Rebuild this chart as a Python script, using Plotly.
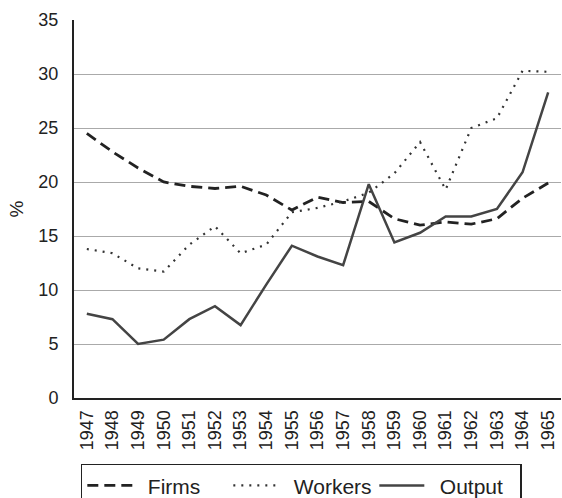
import plotly.graph_objects as go

years = [str(y) for y in range(1947, 1966)]
firms = [24.5, 22.8, 21.3, 20.0, 19.6, 19.4, 19.6, 18.8, 17.4, 18.6, 18.1, 18.2, 16.6, 16.0, 16.3, 16.1, 16.6, 18.5, 19.9]
workers = [13.8, 13.4, 12.0, 11.7, 14.2, 15.9, 13.4, 14.2, 17.2, 17.6, 18.2, 19.0, 20.8, 23.7, 19.3, 25.0, 25.9, 30.3, 30.2]
output = [7.8, 7.3, 5.0, 5.4, 7.3, 8.5, 6.75, 10.5, 14.1, 13.1, 12.3, 19.8, 14.4, 15.3, 16.8, 16.8, 17.5, 20.9, 28.3]
series_names = ["Firms", "Workers", "Output"]

fig = go.Figure()
fig.add_trace(go.Scatter(x=years, y=firms, name="\u2002" + series_names[0], mode="lines",
                         line=dict(color="#222222", width=2.8, dash="11px,6px")))
fig.add_trace(go.Scatter(x=years, y=workers, name="\u2002" + series_names[1], mode="lines",
                         line=dict(color="#333333", width=2.2, dash="2px,6px")))
fig.add_trace(go.Scatter(x=years, y=output, name="\u2002" + series_names[2], mode="lines",
                         line=dict(color="#444444", width=2.5)))

fig.update_layout(
    width=562, height=498,
    margin=dict(l=74, r=1, t=20, b=100, autoexpand=False),
    paper_bgcolor="white", plot_bgcolor="white",
    font=dict(family="Liberation Sans, Arial, sans-serif", size=18, color="#222222"),
    showlegend=True,
    legend=dict(orientation="h", x=0.014, xanchor="left", y=-0.174, yanchor="top",
                bordercolor="#222222", borderwidth=1.5, font=dict(size=21),
                entrywidth=86, itemwidth=45),
)
fig.update_xaxes(type="category", range=[-0.5, 18.5], tickangle=-90,
                 showline=True, linecolor="#222222", linewidth=2,
                 showgrid=False, ticks="", tickfont=dict(size=18),
                 ticklabelstandoff=3, automargin=False)
fig.update_yaxes(range=[0, 35], dtick=5, showline=True, linecolor="#222222", linewidth=2,
                 showgrid=True, gridcolor="#aaaaaa", gridwidth=1.2, ticks="",
                 zeroline=False, tickfont=dict(size=18), ticklabelstandoff=10,
                 automargin=False,
                 title=dict(text="%", font=dict(size=19), standoff=10))

fig.write_html("out.html", post_script="document.body.style.margin='0';",
               config={"displayModeBar": False})
